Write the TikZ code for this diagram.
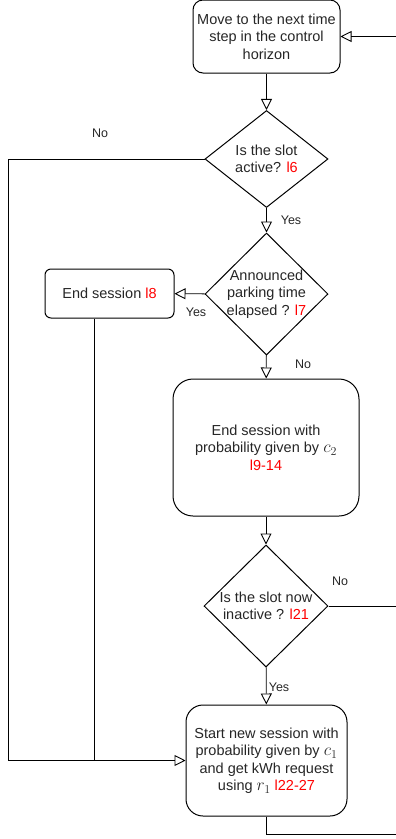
\documentclass[tikz,border=0pt]{standalone}
\usepackage{fontspec}
\setmainfont{Liberation Sans}
\usetikzlibrary{shapes.geometric,arrows.meta}

\definecolor{lref}{HTML}{FF0000}
\newcommand{\lnum}[1]{\textcolor{lref}{#1}}
\newcommand{\mth}[1]{{\fontsize{16.5}{17.5}\selectfont$#1$}}

\begin{document}
\begin{tikzpicture}[x=1pt,y=-1pt,
    every node/.style={font=\fontsize{14.5}{17.5}\selectfont, text=black!85},
    flow/.style={line width=0.9pt, -{Triangle[open,length=11pt,width=11pt]}},
    line/.style={line width=0.9pt},
    stepbox/.style={draw, line width=1pt, align=center, inner sep=0pt},
    decision/.style={draw, diamond, line width=1pt, inner sep=0pt, aspect=1},
    answer/.style={font=\fontsize{12.5}{14}\selectfont}]

        \useasboundingbox (0,0) rectangle (396,839);

        % boxes
        \node[stepbox, rounded corners=10pt, minimum width=147pt, minimum height=73pt] (move) at (266.5,36.5)
            {Move to the next time\\step in the control\\horizon};
        \node[decision, minimum width=123pt, minimum height=97pt,
            label={[align=center]center:Is the slot\\active? \lnum{l6}}] (active) at (266.5,159) {};
        \node[decision, minimum width=123pt, minimum height=122pt,
            label={[align=center]center:Announced\\parking time\\elapsed ? \lnum{l7}}] (elapsed) at (266.5,294) {};
        \node[stepbox, rounded corners=6pt, minimum width=129pt, minimum height=49pt] (endsess) at (109.5,293.5)
            {End session \lnum{l8}};
        \node[stepbox, rounded corners=20pt, minimum width=186pt, minimum height=137pt] (endprob) at (266,447.5)
            {End session with\\probability given by \mth{c_2}\\\lnum{l9-14}};
        \node[decision, minimum width=124pt, minimum height=122pt,
            label={[align=center]center:Is the slot now\\inactive ? \lnum{l21}}] (inactive) at (266,606) {};
        \node[stepbox, rounded corners=17pt, minimum width=161pt, minimum height=111pt] (start) at (266.5,760.5)
            {Start new session with\\probability given by \mth{c_1}\\and get kWh request\\using \mth{r_1} \lnum{l22-27}};

        % free ends of the loops
        \coordinate (lft) at (8,159);
        \coordinate (join) at (94,760.5);
        \coordinate (rgt) at (400,606);
        \coordinate (low) at (266.5,834.5);

        % connectors
        \draw[flow] (move) -- (active);
        \draw[flow] (active) -- (elapsed);
        \draw[flow] (elapsed) -- (endsess);
        \draw[flow] (elapsed) -- (endprob);
        \draw[flow] (endprob) -- (inactive);
        \draw[flow] (inactive) -- (start);
        \draw[flow] (active.west) -- (lft) |- (start.west);
        \draw[line] (endsess.south -| join) -- (join);
        \draw[flow] (inactive.east) -- (rgt) |- (move.east);
        \draw[line] (start.south) -- (low) -| (rgt);

        % answers
        \node[answer] (no1) at (100,133) {No};
        \node[answer] (yes1) at (291,220) {Yes};
        \node[answer] (yes2) at (196,312) {Yes};
        \node[answer] (no2) at (303,364) {No};
        \node[answer] (no3) at (340,581) {No};
        \node[answer] (yes3) at (279,687) {Yes};

    \end{tikzpicture}
\end{document}
